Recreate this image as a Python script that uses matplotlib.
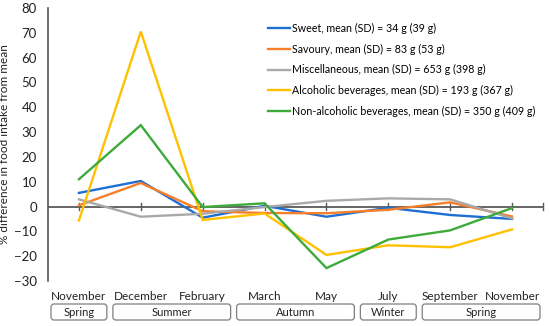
import matplotlib
matplotlib.use("Agg")
import matplotlib.pyplot as plt
from matplotlib.patches import FancyBboxPatch
from matplotlib.transforms import IdentityTransform

months = ["November", "December", "February", "March", "May", "July", "September", "November"]
seasons = ["Spring", "Summer", "Autumn", "Winter", "Spring"]
season_spans = [1, 2, 2, 1, 2]

series_names = [
    "Sweet, mean (SD) = 34 g (39 g)",
    "Savoury, mean (SD) = 83 g (53 g)",
    "Miscellaneous, mean (SD) = 653 g (398 g)",
    "Alcoholic beverages, mean (SD) = 193 g (367 g)",
    "Non-alcoholic beverages, mean (SD) = 350 g (409 g)",
]
sweet = [5.5, 10.3, -4.5, 0.3, -4.1, -0.5, -3.4, -5.0]
savoury = [0.5, 9.5, -1.9, -2.6, -2.7, -1.3, 1.7, -4.0]
misc = [2.9, -4.1, -2.9, -0.2, 2.3, 3.3, 2.9, -4.8]
alcoholic = [-5.6, 70.5, -5.4, -2.8, -19.5, -15.6, -16.4, -9.2]
nonalcoholic = [11.0, 32.8, -0.2, 1.3, -24.8, -13.3, -9.6, -0.6]
values = [sweet, savoury, misc, alcoholic, nonalcoholic]
colors = ["#1F6FD2", "#F77F2A", "#A9A9A9", "#FFC000", "#3DAA3A"]

plt.rcParams['font.family'] = ['Lato', 'DejaVu Sans']
W, H = 550, 326
fig = plt.figure(figsize=(W / 100, H / 100), dpi=100)
ax = fig.add_axes([48 / W, 1 - 281 / H, (543 - 48) / W, (281 - 8) / H])

x = list(range(len(months)))
for vals, c, name in zip(values, colors, series_names):
    ax.plot(x, vals, color=c, lw=1.7, label=name, solid_joinstyle='miter')

ax.set_xlim(-0.5, len(months) - 0.5)
ax.set_ylim(-30, 80)
ax.set_yticks(range(-30, 81, 10))
ax.set_yticklabels([f"{v}".replace("-", "\u2212") for v in range(-30, 81, 10)], fontsize=9.5)
ax.tick_params(axis='y', length=0, pad=8, colors='#222222')
ax.set_xticks([])
for s in ['top', 'right', 'bottom']:
    ax.spines[s].set_visible(False)
ax.spines['left'].set_color('#595959')
ax.spines['left'].set_linewidth(1.2)

# x axis at zero with crossing ticks
ax.axhline(0, color='#595959', lw=1.3, zorder=1)
tick_pos = x + [len(months) - 0.5]
for t in tick_pos:
    ax.plot([t, t], [-1.3, 1.3], color='#595959', lw=1.0, zorder=1, clip_on=False)

ax.set_ylabel("% difference in food intake from mean", fontsize=8.5, labelpad=3, color='#222222')

# month labels
for i, m in enumerate(months):
    ax.text(i, 1 - (296 - 8) / (281 - 8), m, transform=ax.get_xaxis_transform(),
            ha='center', va='center', fontsize=8.5, color='#222222')

# season boxes
fig.canvas.draw()
start = -0.5
for name, span in zip(seasons, season_spans):
    end = start + span
    x0 = ax.transData.transform((start, 0))[0] + 3
    x1 = ax.transData.transform((end, 0))[0] - 3
    y0 = H - 320
    y1 = H - 304
    box = FancyBboxPatch((x0, y0), x1 - x0, y1 - y0,
                         boxstyle="round,pad=0,rounding_size=3",
                         transform=IdentityTransform(), fill=False,
                         edgecolor='#7F7F7F', lw=0.9, clip_on=False)
    fig.add_artist(box)
    fig.text(((x0 + x1) / 2) / W, ((y0 + y1) / 2) / H, name, ha='center', va='center',
             fontsize=8, color='#222222')
    start = end

leg = ax.legend(loc='upper left', bbox_to_anchor=((268 - 48) / (543 - 48), 1 - (23 - 8) / (281 - 8)),
                frameon=False, fontsize=7.7, handlelength=2.1, handletextpad=0.1,
                labelspacing=0.9, borderaxespad=0, borderpad=0)

fig.savefig("out.png", dpi=100)
